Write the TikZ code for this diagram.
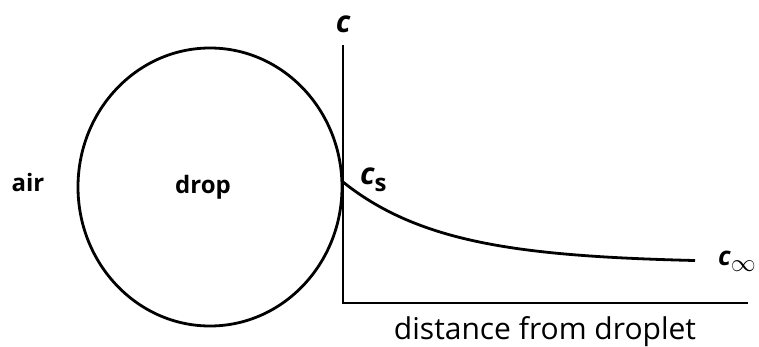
\documentclass[tikz,border=0pt]{standalone}
\usepackage{fontspec}
\setmainfont{Open Sans}
\begin{document}
\begin{tikzpicture}[x=1pt,y=-1pt,
  line/.style={line width=2.8pt,black},
  lbl/.style={font=\fontsize{30}{34}\selectfont, inner sep=0pt},
  lblb/.style={font=\fontsize{24}{30}\selectfont\bfseries, inner sep=0pt},
  sym/.style={font=\fontsize{30}{32}\selectfont\itshape\bfseries, inner sep=0pt}]
\useasboundingbox (0,0) rectangle (759,347);
% droplet
\draw[line] (210,187) ellipse [x radius=132, y radius=139];
% axes
\coordinate (top) at (343,45);
\coordinate (orig) at (343,303);
\coordinate (xend) at (748,303);
\draw[line] (top) -- (orig) -- (xend);
% concentration profile
\draw[line] plot[domain=343:695, samples=80, smooth] (\x, {263-81*exp(-(\x-343)/101)});
% labels
\node[sym, anchor=base] (c) at (343,33) {c};
\node[sym, anchor=base west] (cs) at (360,185) {c\raisebox{-7pt}{\normalfont\bfseries\fontsize{24}{26}\selectfont s}};
\node[sym, anchor=base west] (cinf) at (718,265) {\fontsize{26}{28}\selectfont c\raisebox{-6pt}{\normalfont\fontsize{30}{30}\selectfont$\infty$}};
\node[lblb, anchor=base] (air) at (28,192) {air};
\node[lblb, anchor=base] (drop) at (203,194) {drop};
\node[lbl, anchor=base] (dist) at (545,339) {distance from droplet};
\end{tikzpicture}
\end{document}
